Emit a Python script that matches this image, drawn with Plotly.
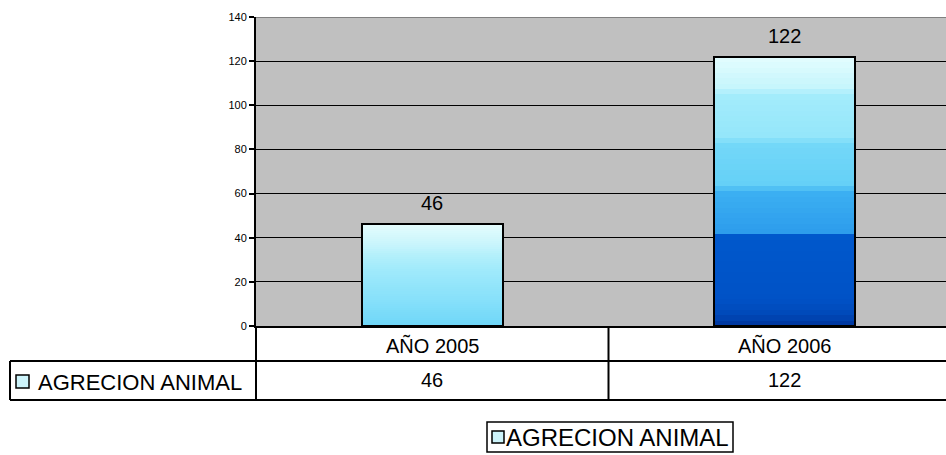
import plotly.graph_objects as go

# Datos
categorias = ["AÑO 2005", "AÑO 2006"]
valores = [46, 122]
serie = "AGRECION ANIMAL"

FONT = "Liberation Sans, Arial, sans-serif"

# Degradado de cada barra: (fracción de la altura, color)
degradados = [
    [(0.00, "#6ed6f8"), (0.25, "#86e0fa"), (0.55, "#a0eafb"),
     (0.70, "#b4f0fb"), (0.80, "#c8f5fc"), (1.00, "#e4fcfd")],
    [(0.00, "#00349a"), (0.04, "#0048b8"), (0.10, "#0052c6"), (0.33, "#0058cc"),
     (0.345, "#2c9cec"), (0.50, "#3cb0f2"), (0.52, "#64d0f7"), (0.68, "#74d8f8"),
     (0.70, "#94e6fa"), (0.86, "#a4ecfb"), (0.88, "#c4f5fc"), (1.00, "#e4fdfe")],
]


def hex_rgb(h):
    return tuple(int(h[i:i + 2], 16) for i in (1, 3, 5))


def color_en(stops, f):
    for (f0, c0), (f1, c1) in zip(stops, stops[1:]):
        if f0 <= f <= f1:
            t = (f - f0) / (f1 - f0) if f1 > f0 else 0
            a, b = hex_rgb(c0), hex_rgb(c1)
            return "rgb(%d,%d,%d)" % tuple(round(a[i] + (b[i] - a[i]) * t) for i in range(3))
    return stops[-1][1]


W, H = 946, 455
# área de trazado: x 256..946, y 17..326
L, T, R, B = 256, 17, 0, 455 - 326
PW, PH = W - L - R, H - T - B
paso = 352.5  # ancho de una categoría en px
x_max = -0.5 + PW / paso


def px(xp):
    return (xp - L) / PW


def py(yp):
    return (H - B - yp) / PH


fig = go.Figure()

# Barras con degradado (segmentos apilados)
N = 50
for k in range(N):
    f0, f1 = k / N, (k + 1) / N
    fm = (f0 + f1) / 2
    fig.add_trace(go.Bar(
        x=categorias,
        y=[v * (f1 - f0) for v in valores],
        base=[v * f0 for v in valores],
        width=0.4,
        marker=dict(color=[color_en(d, fm) for d in degradados], line=dict(width=0)),
        showlegend=False,
        hoverinfo='skip'
    ))

# Contorno
fig.add_trace(go.Bar(
    x=categorias,
    y=valores,
    width=0.4,
    name=serie,
    marker=dict(color='rgba(0,0,0,0)', line=dict(color='black', width=2)),
    showlegend=False
))

# Etiquetas de datos
for c, v in zip(categorias, valores):
    fig.add_annotation(x=c, y=v, text=str(v), showarrow=False, yshift=21,
                       yanchor='middle', font=dict(size=20, color='black', family=FONT))

linea = dict(color='black', width=2)
formas = [
    # borde superior gris
    dict(type='line', xref='paper', yref='y', x0=0, x1=1, y0=140, y1=140,
         line=dict(color='#808080', width=2)),
    # tabla de datos
    dict(type='line', xref='paper', yref='paper', x0=px(10), x1=1.02, y0=py(361), y1=py(361), line=linea),
    dict(type='line', xref='paper', yref='paper', x0=px(10), x1=1.02, y0=py(400), y1=py(400), line=linea),
    dict(type='line', xref='paper', yref='paper', x0=px(10), x1=px(10), y0=py(361), y1=py(400), line=linea),
    dict(type='line', xref='paper', yref='paper', x0=0, x1=0, y0=0, y1=py(400), line=linea),
    dict(type='line', xref='x', yref='paper', x0=0.5, x1=0.5, y0=0, y1=py(400), line=linea),
    # clave de la tabla
    dict(type='rect', xref='paper', yref='paper', x0=px(16), x1=px(29), y0=py(375), y1=py(388),
         fillcolor='#cdf4fb', line=dict(color='black', width=1.5)),
    # leyenda
    dict(type='rect', xref='paper', yref='paper', x0=px(487), x1=px(733), y0=py(422), y1=py(452),
         fillcolor='white', line=dict(color='black', width=1.5)),
    dict(type='rect', xref='paper', yref='paper', x0=px(492), x1=px(504), y0=py(431), y1=py(443),
         fillcolor='#cdf4fb', line=dict(color='black', width=1.5)),
]
fig.update_layout(shapes=formas)

# Textos de la tabla
for i, c in enumerate(categorias):
    fig.add_annotation(x=i, xref='x', y=py(345), yref='paper', text=c, showarrow=False,
                       yanchor='middle', font=dict(size=20, color='black', family=FONT))
    fig.add_annotation(x=i, xref='x', y=py(380), yref='paper', text=str(valores[i]), showarrow=False,
                       yanchor='middle', font=dict(size=20, color='black', family=FONT))
fig.add_annotation(x=px(36), xref='paper', y=py(382), yref='paper', text=serie, showarrow=False,
                   xanchor='left', yanchor='middle', font=dict(size=22, color='black', family=FONT))
fig.add_annotation(x=px(504), xref='paper', y=py(437), yref='paper', text=serie, showarrow=False,
                   xanchor='left', yanchor='middle', font=dict(size=24, color='black', family=FONT))

fig.update_layout(
    width=W,
    height=H,
    margin=dict(l=L, r=R, t=T, b=B, pad=0),
    barmode='overlay',
    bargap=0,
    plot_bgcolor='#c0c0c0',
    paper_bgcolor='white',
    font=dict(family=FONT, color='black'),
    showlegend=False,
    xaxis=dict(type='category', range=[-0.5, x_max], showticklabels=False, ticks='',
               showgrid=False, showline=True, linecolor='black', linewidth=2, zeroline=False),
    yaxis=dict(range=[0, 140], dtick=20, ticks='outside', ticklen=5, tickwidth=1.5,
               tickcolor='black', showline=True, linecolor='black', linewidth=2,
               showgrid=True, gridcolor='black', gridwidth=1, zeroline=False,
               tickfont=dict(size=11, color='black', family=FONT)),
)

# sin el margen por defecto del <body>
fig.write_html("out.html", config={'displayModeBar': False},
               post_script="document.body.style.margin='0';document.body.style.overflow='hidden';")
